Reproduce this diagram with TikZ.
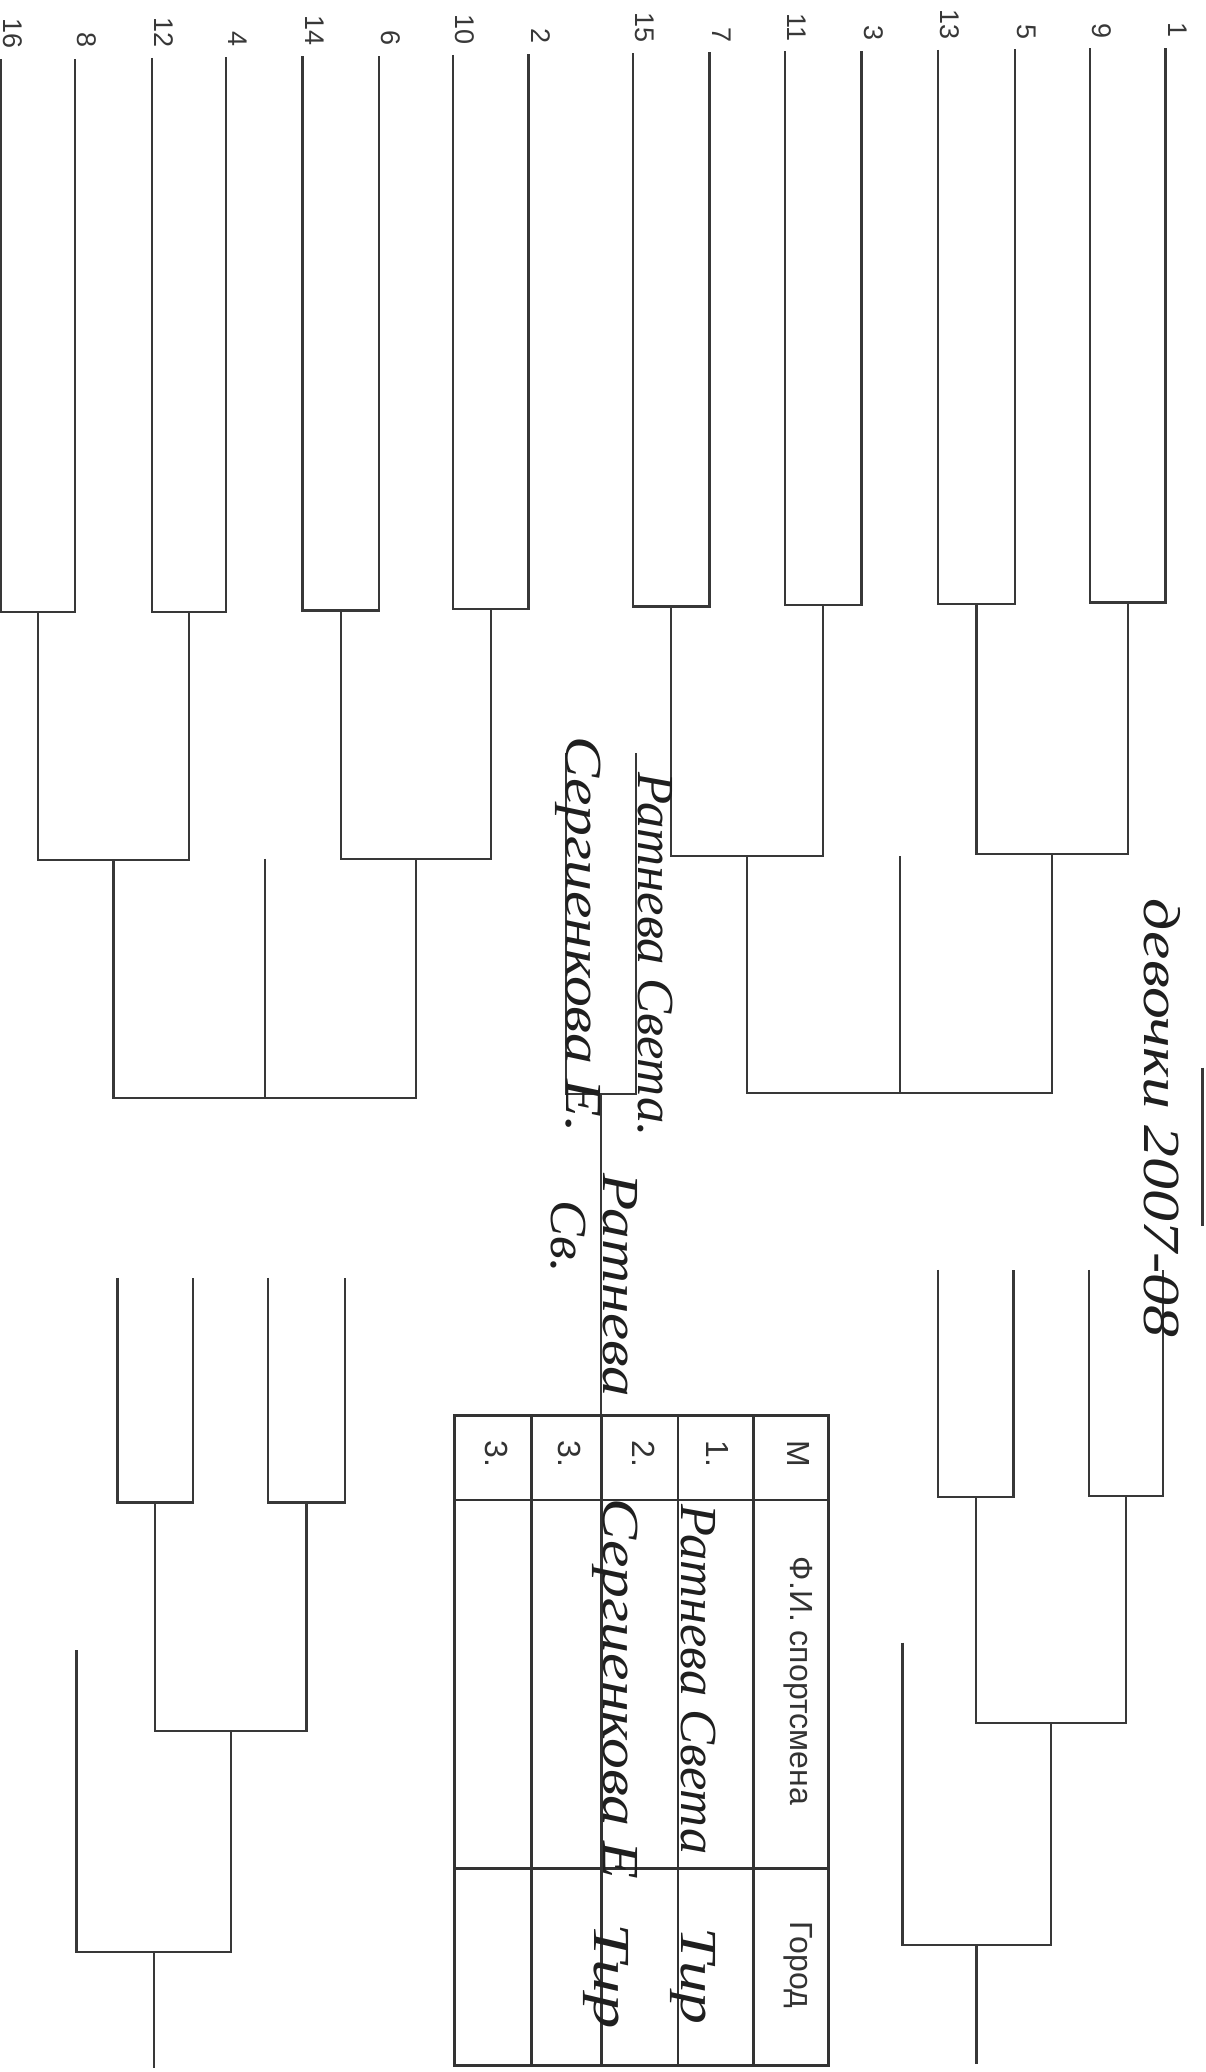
\documentclass[tikz,border=0pt]{standalone}
\usepackage{fontspec}
\setmainfont{Liberation Sans}
\newfontfamily\hwfamily{Liberation Serif}
\newlength\su
\setlength\su{0.66065pt}
\newcommand\hwtext[2]{\resizebox{#1\su}{\height}{\hwfamily\itshape #2}}
\tikzset{
  br/.style={draw=black!78, line width=1.15pt},
  tb/.style={draw=black!80, line width=1.3pt},
  num/.style={rotate=-90, inner sep=0pt, font=\fontsize{13.5}{15}\selectfont, text=black!78, anchor=east},
  thead/.style={rotate=-90, inner sep=0pt, font=\fontsize{16}{18}\selectfont, text=black!80},
  hand/.style={rotate=-90, inner sep=0pt, anchor=base west, text=black!88, font=\fontsize{26}{30}\selectfont},
}
\begin{document}
\begin{tikzpicture}[x=0.66065pt, y=-0.66065pt]
\useasboundingbox (0,0) rectangle (912,1568);
\fill[white] (0,0) rectangle (912,1568);

% first round
\foreach \a/\b/\na/\nb/\yb in {1/57/16/8/463, 115/171/12/4/463, 229/287/14/6/462, 343/400/10/2/461, 479/537/15/7/459, 594/652/11/3/458, 710/768/13/5/457, 825/882/9/1/456}{
  \pgfmathsetmacro\ta{45-9*\a/882}
  \pgfmathsetmacro\tbb{45-9*\b/882}
  \draw[br] (\a,\ta) -- (\a,\yb) -- (\b,\yb) -- (\b,\tbb);
  \pgfmathsetmacro\ea{37-8*\a/882}
  \pgfmathsetmacro\eb{37-8*\b/882}
  \node[num] (n\na) at (\a+9,\ea) {\na};
  \node[num] (n\nb) at (\b+9,\eb) {\nb};
}

% second round
\draw[br] (29,463) -- (29,651) -- (143,651) -- (143,463);
\draw[br] (258,462) -- (258,650) -- (371.5,650) -- (371.5,461);
\draw[br] (508,459) -- (508,648) -- (623,648) -- (623,458);
\draw[br] (739,457) -- (739,646) -- (853.5,646) -- (853.5,456);
% third round
\draw[br] (86,651) -- (86,831) -- (315,831) -- (315,650);
\draw[br] (200.5,650) -- (200.5,831);
\draw[br] (565.5,648) -- (565.5,827) -- (796,827) -- (796,646);
\draw[br] (681,648) -- (681,827);
% final
\draw[br] (428.5,570) -- (428.5,828) -- (481.5,828) -- (481.5,570);
\draw[br] (455,828) -- (455,1071);

% table
\draw[tb] (344,1071) rectangle (627,1563);
\foreach \x in {402,455,513,570} \draw[tb] (\x,1071) -- (\x,1563);
\foreach \y in {1135,1414} \draw[tb] (344,\y) -- (627,\y);

% lower left bracket
\draw[br] (89,967) -- (89,1137) -- (146,1137) -- (146,967);
\draw[br] (203,967) -- (203,1137) -- (261,1137) -- (261,967);
\draw[br] (117.5,1137) -- (117.5,1310) -- (232,1310) -- (232,1137);
\draw[br] (58,1249) -- (58,1477) -- (174.75,1477) -- (174.75,1310);
\draw[br] (116.4,1477) -- (116.4,1565);

% lower right bracket
\draw[br] (710,961) -- (710,1133) -- (767,1133) -- (767,961);
\draw[br] (824,961) -- (824,1132) -- (880,1132) -- (880,961);
\draw[br] (738.5,1133) -- (738.5,1304) -- (852,1304) -- (852,1132);
\draw[br] (683,1243) -- (683,1472) -- (795.25,1472) -- (795.25,1304);
\draw[br] (739,1472) -- (739,1562);

% edge fragment
\draw[br] (910,808) -- (910,928);

% table text
\node[thead] (tM) at (604,1100) {М};
\node[thead] (tFI) at (604,1272) {Ф.И. спортсмена};
\node[thead] (tG) at (604,1487) {Город};
\node[thead] (t1) at (543,1100) {1.};
\node[thead] (t2) at (487,1100) {2.};
\node[thead] (t3a) at (431,1100) {3.};
\node[thead] (t3b) at (376,1100) {3.};

% handwriting
\node[hand] (title) at (866,680) {\hwtext{332}{девочки 2007-08}};
\node[hand] (w1) at (483,584) {\hwtext{276}{Ратнева Света.}};
\node[hand] (w2) at (429,557) {\hwtext{300}{Сергиенкова Е.}};
\node[hand] (w3) at (457,888) {\hwtext{169}{Ратнева}};
\node[hand] (w4) at (417,908) {\hwtext{55}{Св.}};
\node[hand] (h1) at (516,1138) {\hwtext{265}{Ратнева Света}};
\node[hand] (h2) at (516,1458) {\hwtext{74}{Тир}};
\node[hand] (h3) at (457,1134) {\hwtext{288}{Сергиенкова Е}};
\node[hand] (h4) at (450,1455) {\hwtext{80}{Тир}};
\end{tikzpicture}
\end{document}
